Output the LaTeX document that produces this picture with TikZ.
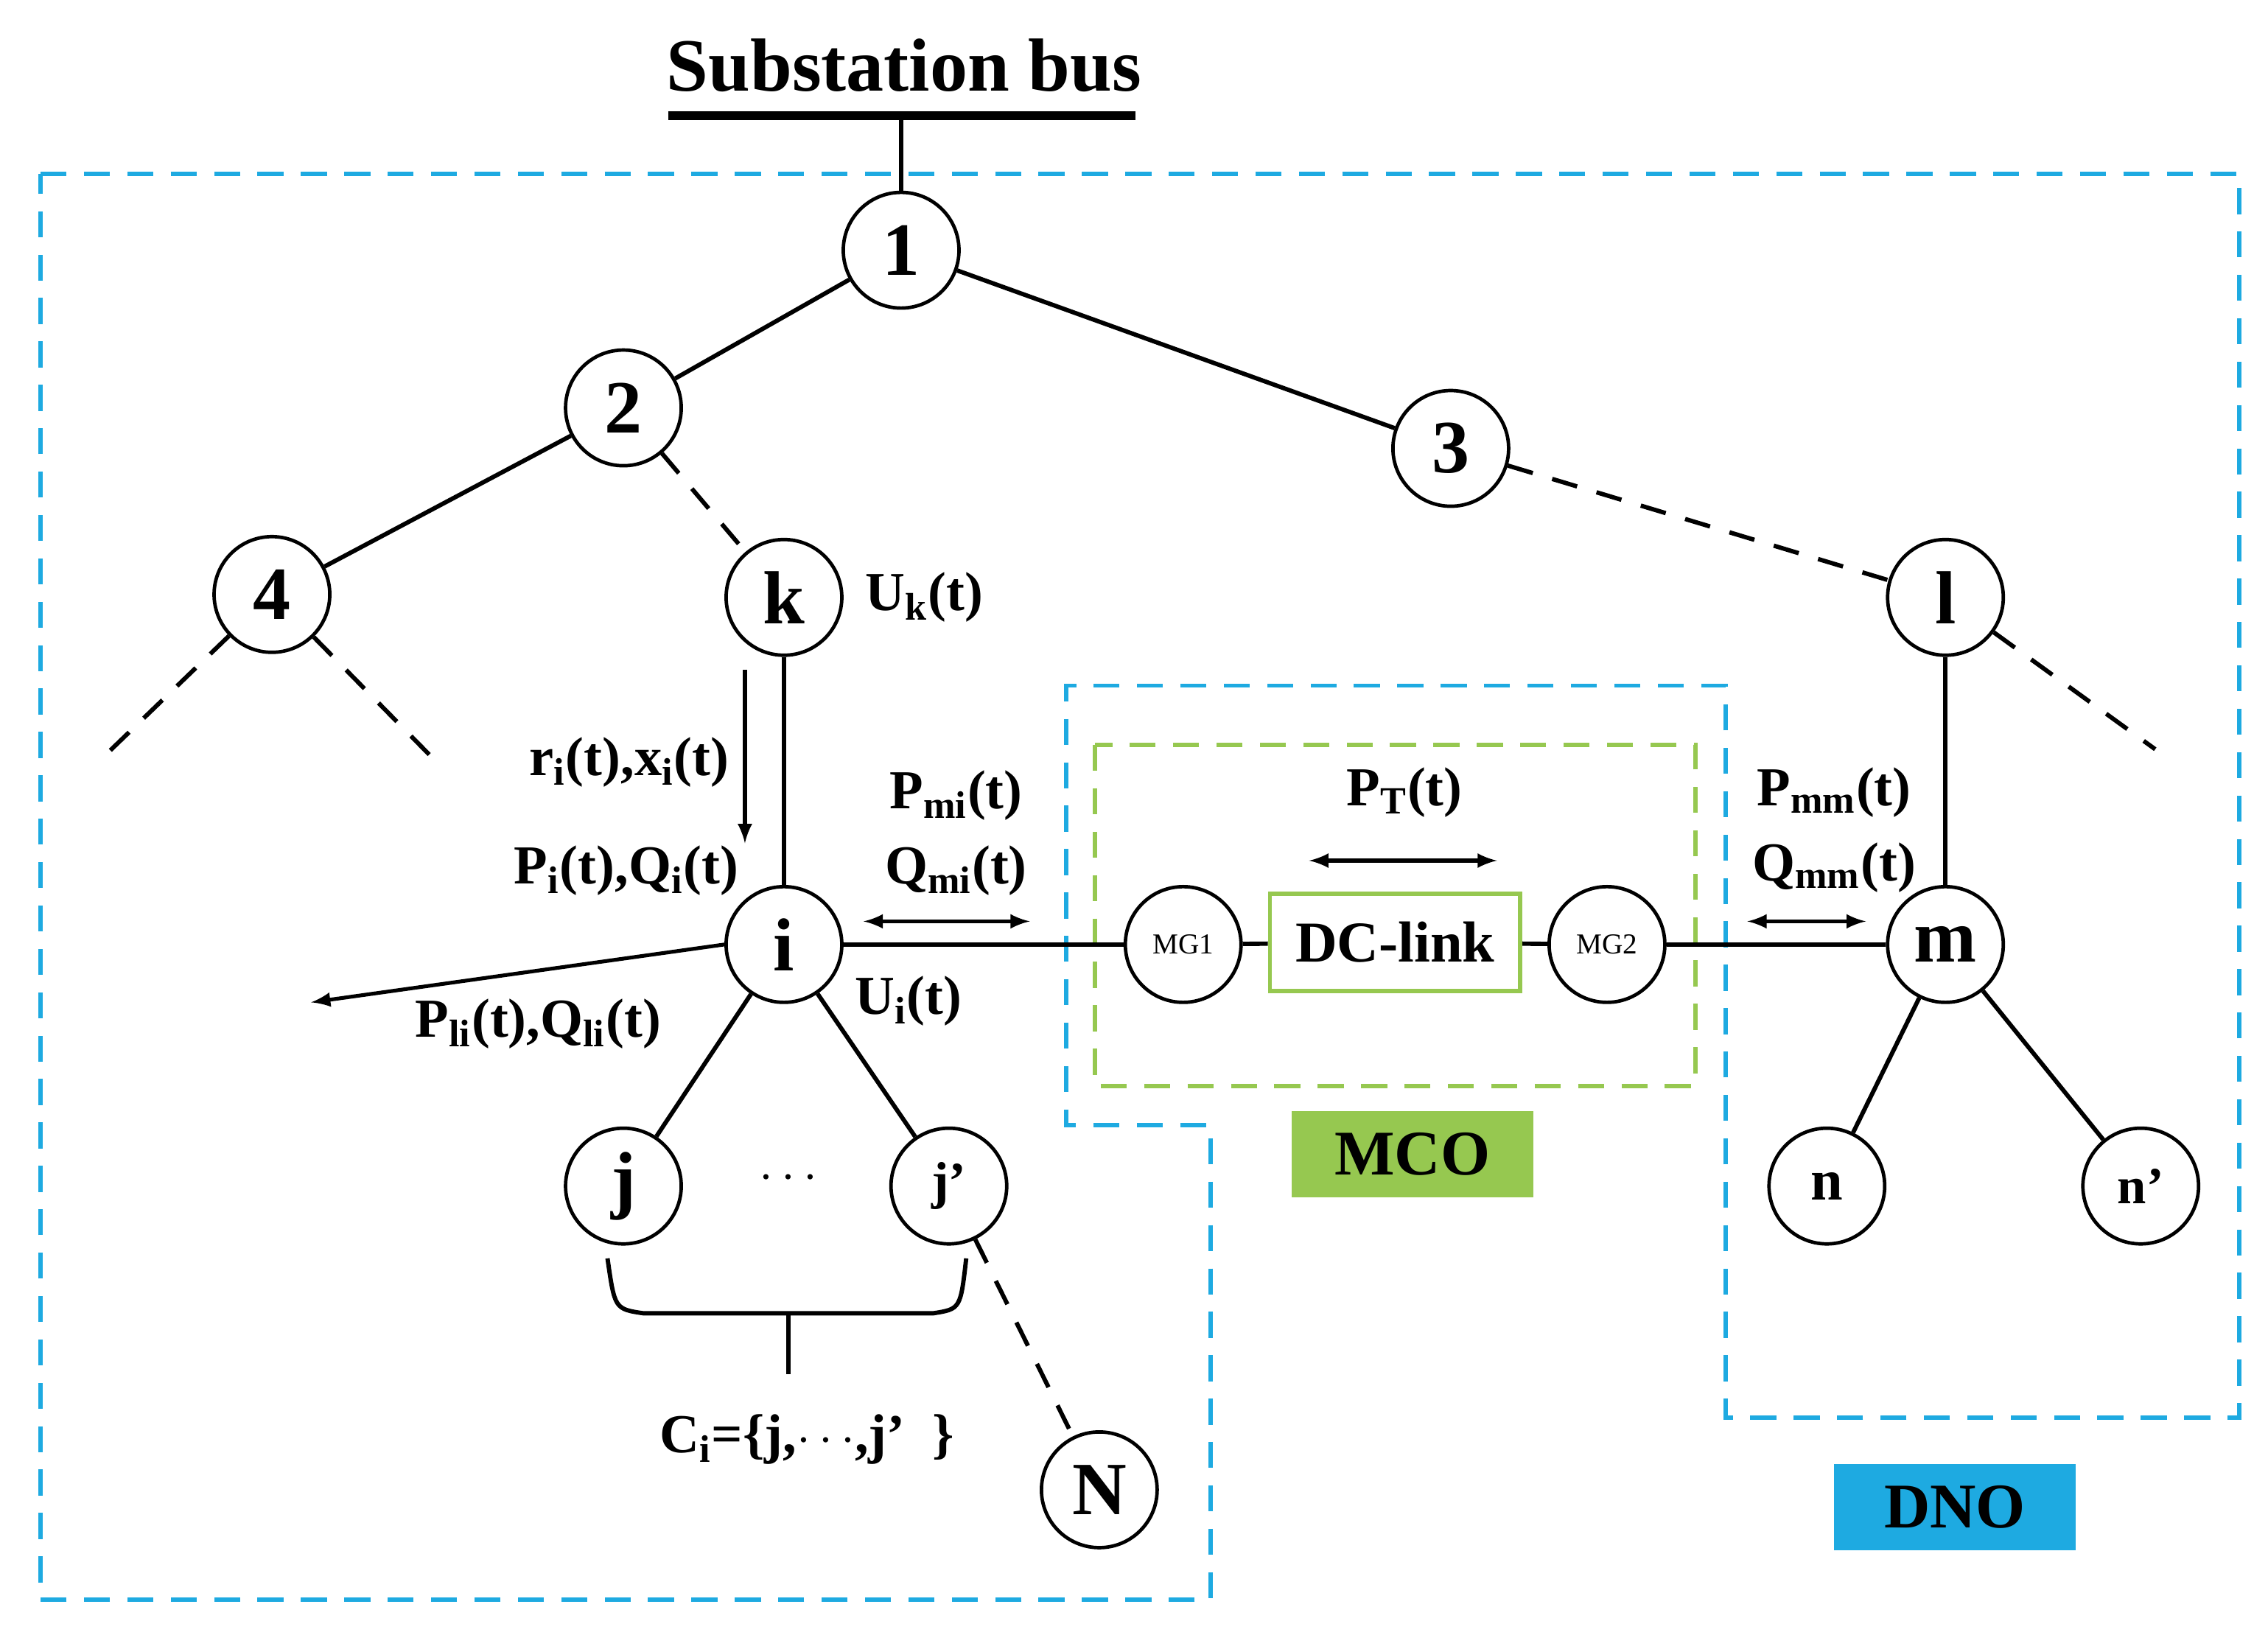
\documentclass[tikz,border=0pt]{standalone}
\usepackage{fontspec}
\setmainfont{Liberation Serif}
\begin{document}
\begin{tikzpicture}[x=0.5pt,y=-0.5pt,
 bus/.style={circle,draw,line width=1.2pt,minimum size=40pt,inner sep=0pt,font=\bfseries\fontsize{26}{26}\selectfont},
 mg/.style={bus,font=\fontsize{10}{10}\selectfont},
 ln/.style={line width=1.5pt},
 dl/.style={line width=1.5pt,dash pattern=on 9pt off 7pt},
 lab/.style={font=\bfseries\fontsize{19}{19}\selectfont,inner sep=0pt},
 arr/.style={line width=1.3pt,-latex},
 darr/.style={line width=1.3pt,latex-latex},
 bdash/.style={line width=1.5pt,dash pattern=on 9pt off 6pt},
 gdash/.style={line width=1.5pt,dash pattern=on 9pt off 6pt}]
\useasboundingbox (0,0) rectangle (1568,1130);
\definecolor{bl}{RGB}{30,170,225}
\definecolor{gr}{RGB}{150,200,80}
% frames
\draw[bdash,draw=bl] (28,120)--(1548,120)--(1548,980)--(1193,980)--(1193,474)--(737,474)--(737,778)--(837,778)--(837,1106)--(28,1106)--cycle;
\draw[gdash,draw=gr] (757,515) rectangle (1172,751);
\node[fill=gr,minimum width=83.5pt,minimum height=30pt,inner sep=0pt,font=\bfseries\fontsize{22}{22}\selectfont] (mco) at (976.5,798) {MCO};
\node[fill=bl,minimum width=83.5pt,minimum height=30pt,inner sep=0pt,font=\bfseries\fontsize{22}{22}\selectfont] (dno) at (1351.5,1042) {DNO};
% substation
\node[font=\bfseries\fontsize{26}{26}\selectfont] (sb) at (625,45) {Substation bus};
\coordinate (b1) at (462,80); \coordinate (b2) at (785,80); \coordinate (bm) at (623,80);
\draw[line width=3pt] (b1)--(b2);
% nodes
\node[bus] (n1) at (623,173) {1};
\node[bus] (n2) at (431,282) {2};
\node[bus] (n3) at (1003,310) {3};
\node[bus] (n4) at (188,411) {4};
\node[bus] (k) at (542,413) {k};
\node[bus] (l) at (1345,413) {l};
\node[bus] (i) at (542,653) {i};
\node[bus] (m) at (1345,653) {m};
\node[bus] (j) at (431,820) {j};
\node[bus,font=\bfseries\fontsize{18}{18}\selectfont] (jp) at (656,820) {j’};
\node[bus] (N) at (760,1030) {N};
\node[bus,font=\bfseries\fontsize{20}{20}\selectfont] (nn) at (1263,820) {n};
\node[bus,font=\bfseries\fontsize{18}{18}\selectfont] (np) at (1480,820) {n’};
\node[mg] (mg1) at (818,653) {MG1};
\node[mg] (mg2) at (1111,653) {MG2};
\node[draw=gr,line width=1.5pt,minimum width=86.5pt,minimum height=33.5pt,inner sep=0pt,font=\bfseries\fontsize{20}{20}\selectfont] (dc) at (964.5,651.5) {DC-link};
\coordinate (e4a) at (75,520); \coordinate (e4b) at (300,525); \coordinate (ela) at (1490,518);
% edges
\draw[ln] (bm)--(n1);
\draw[ln] (n1)--(n2); \draw[ln] (n1)--(n3); \draw[ln] (n2)--(n4);
\draw[dl] (n2)--(k); \draw[dl] (n3)--(l);
\draw[dl] (n4)--(e4a); \draw[dl] (n4)--(e4b); \draw[dl] (l)--(ela);
\draw[ln] (k)--(i); \draw[ln] (l)--(m);
\draw[ln] (i)--(mg1); \draw[ln] (mg1)--(dc); \draw[ln] (dc)--(mg2); \draw[ln] (mg2)--(m);
\draw[ln] (i)--(j); \draw[ln] (i)--(jp); \draw[dl] (jp)--(N);
\draw[ln] (m)--(nn); \draw[ln] (m)--(np);
% arrows
\coordinate (a1) at (515,463); \coordinate (a2) at (515,583);
\draw[arr] (a1)--(a2);
\coordinate (a3) at (597,637); \coordinate (a4) at (712,637);
\draw[darr] (a3)--(a4);
\coordinate (a5) at (905,595); \coordinate (a6) at (1035,595);
\draw[darr] (a5)--(a6);
\coordinate (a7) at (1208,637); \coordinate (a8) at (1290,637);
\draw[darr] (a7)--(a8);
\coordinate (a9) at (215,693);
\draw[arr] (i.west)--(a9);
% labels
\node[lab,anchor=west] (uk) at (598,413) {U$_{\mathbf{k}}$(t)};
\node[lab] (rx) at (435,527) {r$_{\mathbf{i}}$(t),x$_{\mathbf{i}}$(t)};
\node[lab] (pq) at (433,602) {P$_{\mathbf{i}}$(t),Q$_{\mathbf{i}}$(t)};
\node[lab] (pmi) at (661,550) {P$_{\mathbf{mi}}$(t)};
\node[lab] (qmi) at (661,602) {Q$_{\mathbf{mi}}$(t)};
\node[lab] (ui) at (628,692) {U$_{\mathbf{i}}$(t)};
\node[lab] (pli) at (372,708) {P$_{\mathbf{li}}$(t),Q$_{\mathbf{li}}$(t)};
\node[lab] (pt) at (971,548) {P$_{\mathbf{T}}$(t)};
\node[lab] (pmm) at (1268,548) {P$_{\mathbf{mm}}$(t)};
\node[lab] (qmm) at (1268,600) {Q$_{\mathbf{mm}}$(t)};
\node[lab] (dots) at (545,815) {$\cdots$};
\node[lab] (ci) at (558,995) {C$_{\mathbf{i}}$=\{j,$\cdots$,j’\ \ \}};
% brace
\coordinate (c1) at (420,870); \coordinate (c2) at (445,908); \coordinate (c3) at (645,908); \coordinate (c4) at (668,870);
\coordinate (s1) at (545,908); \coordinate (s2) at (545,950);
\draw[ln] (c1) .. controls (425,905) .. (c2) -- (c3) .. controls (664,905) .. (c4);
\draw[ln] (s1)--(s2);
\end{tikzpicture}
\end{document}
